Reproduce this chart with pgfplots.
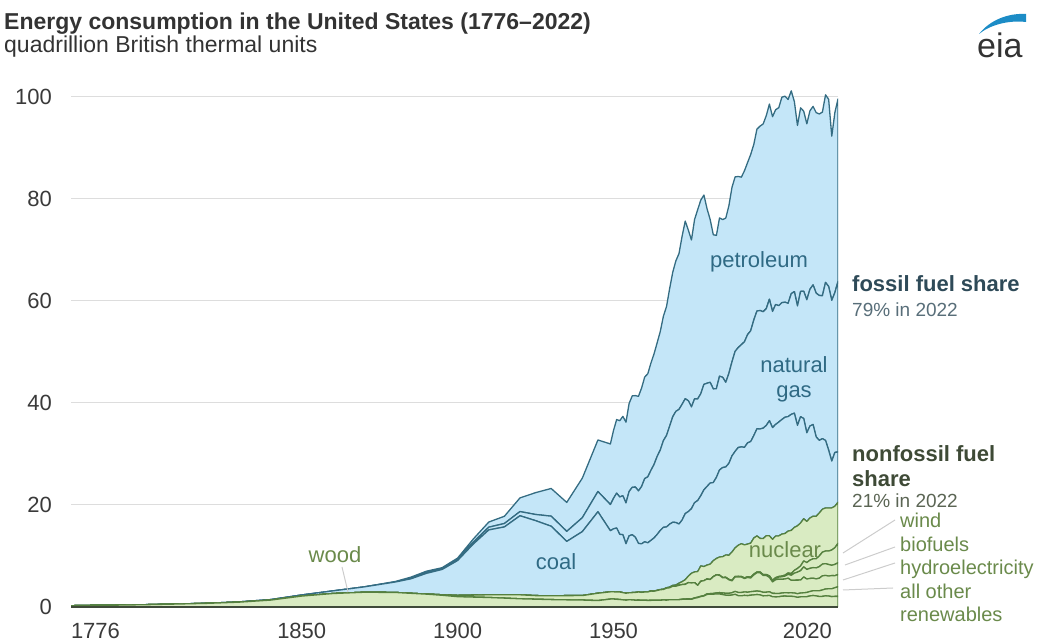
\documentclass[border=0pt]{standalone}
\usepackage{fontspec}
\setmainfont{Liberation Sans}
\usepackage{pgfplots}
\usepackage{pgfplotstable}
\pgfplotsset{compat=1.18}

\definecolor{fossilfill}{HTML}{C4E6F8}
\definecolor{fossilline}{HTML}{346C82}
\definecolor{fossiltext}{HTML}{2F6A84}
\definecolor{greenfill}{HTML}{D9EBC2}
\definecolor{greenline}{HTML}{55803F}
\definecolor{greentext}{HTML}{6A8A4B}
\definecolor{gridgray}{HTML}{DDDDDD}
\definecolor{leadgray}{HTML}{CCCCCC}
\definecolor{ticktext}{HTML}{3A3A3A}
\definecolor{titletext}{HTML}{333333}
\definecolor{fossilhead}{HTML}{2E4A58}
\definecolor{greenhead}{HTML}{3E4A36}
\definecolor{eiablue}{HTML}{1C8CC6}
\definecolor{axisdark}{HTML}{3F4A3A}

\newcommand{\fs}[1]{\fontsize{#1}{#1}\selectfont}

% quadrillion Btu; stacked bottom to top
\pgfplotstableread{
year wood other hydro bio wind nuclear coal gas oil
1776 0.25 0 0 0 0 0 0 0 0
1780 0.30 0 0 0 0 0 0 0 0
1790 0.36 0 0 0 0 0 0 0 0
1800 0.45 0 0 0 0 0 0.01 0 0
1810 0.58 0 0 0 0 0 0.01 0 0
1820 0.72 0 0 0 0 0 0.02 0 0
1830 0.95 0 0 0 0 0 0.06 0 0
1840 1.35 0 0 0 0 0 0.10 0 0
1850 2.14 0 0 0 0 0 0.22 0 0
1860 2.64 0 0 0 0 0 0.52 0 0.003
1870 2.89 0 0 0 0 0 1.05 0 0.011
1880 2.85 0 0 0 0 0 2.05 0 0.10
1885 2.68 0 0 0 0 0 2.84 0.15 0.18
1890 2.52 0 0.02 0 0 0 4.06 0.26 0.16
1895 2.30 0 0.10 0 0 0 4.95 0.15 0.20
1900 2.02 0 0.25 0 0 0 6.84 0.25 0.23
1905 1.94 0 0.39 0 0 0 10.00 0.37 0.61
1910 1.86 0 0.54 0 0 0 12.71 0.54 1.01
1915 1.74 0 0.66 0 0 0 13.30 0.67 1.42
1920 1.61 0 0.78 0 0 0 15.50 0.82 2.68
1925 1.53 0 0.70 0 0 0 14.70 1.21 4.28
1930 1.45 0 0.75 0 0 0 13.64 1.97 5.43
1935 1.40 0 0.83 0 0 0 10.63 1.97 5.68
1940 1.36 0 0.88 0 0 0 12.54 2.73 7.76
1945 1.26 0 1.44 0 0 0 15.97 3.97 10.11
1949 1.55 0 1.42 0 0 0 11.98 5.14 11.88
1950 1.56 0 1.42 0 0 0 12.35 5.97 13.32
1951 1.51 0 1.42 0 0 0 12.55 6.84 14.43
1952 1.47 0 1.47 0 0 0 11.31 7.32 14.96
1953 1.40 0 1.41 0 0 0 11.37 7.64 15.56
1954 1.34 0 1.36 0 0 0 9.70 8.00 15.84
1955 1.42 0 1.36 0 0 0 11.17 8.69 17.25
1956 1.39 0 1.43 0 0 0 11.35 9.29 17.94
1957 1.33 0 1.52 0 0 0 10.82 9.85 17.93
1958 1.35 0 1.59 0 0 0 9.53 10.30 18.53
1959 1.32 0 1.55 0 0 0 9.52 11.22 19.32
1960 1.32 0 1.61 0 0 0.01 9.84 12.39 19.92
1961 1.29 0 1.66 0 0 0.02 9.62 12.93 20.22
1962 1.30 0 1.82 0 0 0.03 9.91 13.73 21.05
1963 1.32 0 1.77 0 0 0.04 10.41 14.40 21.70
1964 1.34 0 1.89 0 0 0.04 10.96 15.29 22.30
1965 1.33 0 2.06 0 0 0.04 11.58 15.77 23.25
1966 1.37 0 2.06 0 0 0.06 12.14 16.99 24.40
1967 1.34 0 2.35 0 0 0.09 11.91 17.94 25.28
1968 1.42 0 2.35 0 0 0.14 12.33 19.21 26.98
1969 1.44 0 2.65 0 0 0.15 12.38 20.68 28.34
1970 1.43 0.01 2.63 0 0 0.24 12.26 21.79 29.52
1971 1.43 0.01 2.82 0 0 0.41 11.60 22.47 30.56
1972 1.50 0.03 2.86 0 0 0.58 12.08 22.70 32.95
1973 1.53 0.05 2.86 0 0 0.91 12.97 22.51 34.84
1974 1.54 0.06 3.18 0 0 1.27 12.66 21.73 33.45
1975 1.50 0.07 3.15 0 0 1.90 12.66 19.95 32.73
1976 1.71 0.08 2.98 0 0 2.11 13.58 20.35 35.18
1977 1.84 0.08 2.33 0 0 2.70 13.92 19.93 37.12
1978 2.04 0.06 2.94 0 0 3.02 13.77 20.00 37.97
1979 2.15 0.08 2.93 0 0 2.78 15.04 20.67 37.12
1980 2.47 0.11 2.90 0 0 2.74 15.42 20.24 34.20
1981 2.50 0.12 2.76 0.01 0 3.01 15.91 19.74 31.93
1982 2.51 0.15 3.27 0.02 0 3.13 15.32 18.36 30.23
1983 2.56 0.20 3.53 0.03 0 3.20 15.89 17.40 30.05
1984 2.55 0.27 3.39 0.04 0 3.55 17.07 18.38 31.05
1985 2.43 0.33 2.97 0.05 0 4.08 17.48 17.70 30.92
1986 2.32 0.37 3.07 0.06 0 4.38 17.26 16.59 32.20
1987 2.28 0.41 2.64 0.07 0 4.75 18.01 17.64 32.87
1988 2.35 0.44 2.33 0.07 0 5.59 18.85 18.45 34.22
1989 2.48 0.58 2.84 0.07 0.02 5.60 18.93 19.60 34.21
1990 2.22 0.62 3.05 0.08 0.03 6.10 19.17 19.60 33.55
1991 2.19 0.66 3.02 0.09 0.03 6.42 18.99 20.03 32.85
1992 2.28 0.67 2.62 0.10 0.03 6.48 19.12 20.71 33.53
1993 2.22 0.68 2.89 0.11 0.03 6.41 19.84 21.23 33.74
1994 2.32 0.68 2.68 0.12 0.04 6.69 19.91 21.73 34.56
1995 2.37 0.70 3.21 0.13 0.03 7.08 20.09 22.67 34.44
1996 2.44 0.69 3.59 0.10 0.03 7.09 21.00 23.09 35.67
1997 2.37 0.70 3.64 0.12 0.03 6.60 21.45 23.22 36.16
1998 2.18 0.70 3.30 0.13 0.03 7.07 21.66 22.83 36.82
1999 2.21 0.70 3.27 0.14 0.05 7.61 21.62 22.91 37.84
2000 2.26 0.73 2.81 0.23 0.06 7.86 22.58 23.82 38.26
2001 2.01 0.67 2.24 0.25 0.07 8.03 21.91 22.77 38.19
2002 1.98 0.68 2.69 0.30 0.11 8.14 21.90 23.51 38.20
2003 2.00 0.63 2.83 0.40 0.12 7.96 22.32 22.83 38.81
2004 2.12 0.63 2.69 0.49 0.14 8.22 22.47 22.91 40.29
2005 2.14 0.65 2.70 0.58 0.18 8.16 22.80 22.56 40.39
2006 2.11 0.66 2.87 0.77 0.26 8.21 22.45 22.22 39.96
2007 2.10 0.68 2.45 0.99 0.34 8.46 22.75 23.66 39.77
2008 2.04 0.71 2.51 1.37 0.55 8.43 22.39 23.84 37.28
2009 1.89 0.71 2.67 1.57 0.72 8.36 19.69 23.42 35.40
2010 1.99 0.75 2.54 1.85 0.92 8.43 20.83 24.57 36.00
2011 2.00 0.78 3.10 1.98 1.17 8.27 19.66 24.96 35.30
2012 2.02 0.83 2.63 1.89 1.34 8.06 17.38 26.09 34.50
2013 2.17 0.87 2.56 1.98 1.60 8.27 18.04 26.81 35.00
2014 2.25 0.93 2.47 2.07 1.73 8.34 17.99 27.38 35.00
2015 2.17 1.02 2.32 2.16 1.78 8.34 15.55 28.19 35.40
2016 2.06 1.12 2.47 2.26 2.10 8.43 14.23 28.40 35.60
2017 2.08 1.26 2.77 2.30 2.34 8.42 13.84 28.03 36.00
2018 2.19 1.34 2.66 2.31 2.48 8.44 13.24 30.97 36.80
2019 2.15 1.42 2.49 2.27 2.64 8.45 11.32 32.10 36.70
2020 2.03 1.54 2.59 2.02 3.00 8.25 9.18 31.52 32.20
2021 2.08 1.70 2.36 2.21 3.28 8.13 10.55 31.35 35.30
2022 2.08 1.90 2.40 2.30 3.80 8.06 9.87 33.41 35.80
}\energy

\begin{document}
\begin{tikzpicture}
\path[use as bounding box] (0,0) rectangle (1039pt,644pt);

\begin{axis}[
    at={(71pt,37pt)}, anchor=south west,
    scale only axis,
    width=767pt, height=520.2pt,
    xmin=1776, xmax=2022,
    ymin=0, ymax=102,
    stack plots=y,
    no markers,
    axis line style={draw=none},
    major tick length=0pt,
    ymajorgrids,
    grid style={draw=gridgray, line width=1pt},
    ytick={0,20,40,60,80,100},
    xtick={1776,1850,1900,1950,2020},
    xticklabels={\rlap{1776},1850,1900,1950,\llap{2020}},
    /pgf/number format/assume math mode=true,
    tick label style={font=\fs{22}, text=ticktext, inner sep=0pt},
    yticklabel style={anchor=east, xshift=-19pt},
    xticklabel style={anchor=north, yshift=-16pt},
    every axis plot/.append style={line width=1.3pt, line join=round},
]
\addplot[fill=greenfill, draw=greenline] table[x=year, y=wood] {\energy} \closedcycle;
\addplot[fill=greenfill, draw=greenline] table[x=year, y=other] {\energy} \closedcycle;
\addplot[fill=greenfill, draw=greenline] table[x=year, y=hydro] {\energy} \closedcycle;
\addplot[fill=greenfill, draw=greenline] table[x=year, y=bio] {\energy} \closedcycle;
\addplot[fill=greenfill, draw=greenline] table[x=year, y=wind] {\energy} \closedcycle;
\addplot[fill=greenfill, draw=greenline] table[x=year, y=nuclear] {\energy} \closedcycle;
\addplot[fill=fossilfill, draw=fossilline] table[x=year, y=coal] {\energy} \closedcycle;
\addplot[fill=fossilfill, draw=fossilline] table[x=year, y=gas] {\energy} \closedcycle;
\addplot[fill=fossilfill, draw=fossilline] table[x=year, y=oil] {\energy} \closedcycle;
\end{axis}

% baseline
\draw[axisdark, line width=2.5pt] (71pt,37pt) -- (838pt,37pt);

% title
\node[anchor=base west, inner sep=0, text=titletext, font=\bfseries\fs{23}] at (4pt,614pt)
  {Energy consumption in the United States (1776–2022)};
\node[anchor=base west, inner sep=0, text=titletext, font=\fs{23}] at (4pt,591pt)
  {quadrillion British thermal units};

% eia logo
\fill[eiablue] (979pt,610pt) .. controls (990pt,624pt) and (1008pt,631pt) .. (1026pt,630pt)
  -- (1026pt,622pt) .. controls (1008pt,624pt) and (990pt,619pt) .. cycle;
\node[anchor=base west, inner sep=0, text=titletext, font=\fs{34}] at (977pt,586pt) {eia};

% in-chart labels
\node[anchor=base, inner sep=0, text=fossiltext, font=\fs{22}] at (759pt,376pt) {petroleum};
\node[anchor=base, inner sep=0, text=fossiltext, font=\fs{22}] at (794pt,271pt) {natural};
\node[anchor=base, inner sep=0, text=fossiltext, font=\fs{22}] at (794pt,246pt) {gas};
\node[anchor=base, inner sep=0, text=fossiltext, font=\fs{22}] at (556pt,74pt) {coal};
\node[anchor=base, inner sep=0, text=greentext, font=\fs{22}] at (335pt,81pt) {wood};
\node[anchor=base, inner sep=0, text=greentext, font=\fs{22}] at (785pt,86pt) {nuclear};
\draw[leadgray, line width=1pt] (342pt,77pt) -- (348pt,52pt);

% share labels
\node[anchor=base west, inner sep=0, text=fossilhead, font=\bfseries\fs{22}] at (852pt,352pt) {fossil fuel share};
\node[anchor=base west, inner sep=0, text=fossilhead!80!white, font=\fs{19}] at (852pt,327pt) {79\% in 2022};
\node[anchor=base west, inner sep=0, text=greenhead, font=\bfseries\fs{22}] at (852pt,182pt) {nonfossil fuel};
\node[anchor=base west, inner sep=0, text=greenhead, font=\bfseries\fs{22}] at (852pt,157pt) {share};
\node[anchor=base west, inner sep=0, text=greenhead!85!white, font=\fs{19}] at (852pt,136pt) {21\% in 2022};

% renewable labels with leader lines
\foreach \txt/\yb in {wind/116, biofuels/92.5, hydroelectricity/69, all other/45.5, renewables/22}
  \node[anchor=base west, inner sep=0, text=greentext, font=\fs{20}] at (900pt,\yb pt) {\txt};
\draw[leadgray, line width=1pt] (895pt,124pt) -- (843pt,91pt);
\draw[leadgray, line width=1pt] (895pt,97pt) -- (845pt,79pt);
\draw[leadgray, line width=1pt] (895pt,81pt) -- (843pt,64pt);
\draw[leadgray, line width=1pt] (893pt,56pt) -- (843pt,54pt);
\end{tikzpicture}
\end{document}
